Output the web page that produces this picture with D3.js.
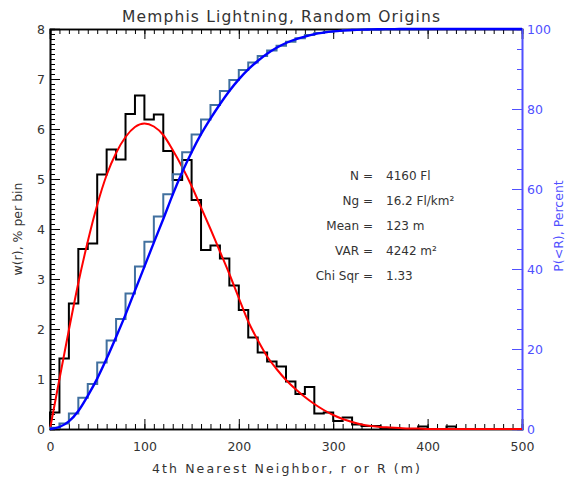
<!DOCTYPE html>
<html>
<script src='https://d3js.org/d3.v7.min.js'></script>
<style>
body {margin: 0; background: #fff;}
text {font-family: 'DejaVu Sans', sans-serif;}
</style>
<body>
<script>
// histogram bins (left edge, m), 10 m wide
var binStart = [0,10,20,30,40,50,60,70,80,90,100,110,120,130,140,150,160,170,180,190,
  200,210,220,230,240,250,260,270,280,290,300,310,320,330,340,350,360,370,380,390,400,410,420,430];
// w(r), % per bin
var pdfHist = [0.33,1.41,2.51,3.6,3.71,5.09,5.59,5.39,6.3,6.67,6.19,6.29,5.56,4.98,5.38,4.58,3.58,3.67,3.41,2.87,
  2.38,1.83,1.53,1.35,1.25,0.95,0.7,0.84,0.31,0.33,0.16,0.23,0.09,0.06,0.06,0.02,0.01,0,0,0.05,0,0,0.05,0];
// P(<R), percent
var cdfHist = [0.3,1.4,3.9,7.8,11.25,16.6,22.1,27.5,33.9,40.6,46.8,53.1,58.7,63.7,69.2,73.6,77.4,81.0,84.5,87.25,
  89.75,91.6,93.25,94.6,95.8,96.8,97.7,98.5,99.0,99.3,99.5,99.7,99.8,99.85,99.9,99.92,99.93,99.93,99.95,99.95,100,100,100,100];

// fitted curves, sampled every 10 m
var curveR = [0,10,20,30,40,50,60,70,80,90,100,110,120,130,140,150,160,170,180,190,200,
  210,220,230,240,250,260,270,280,290,300,310,320,330,340,350,360,370,380,390,400,
  410,420,430,440,450,460,470,480,490,500];
var pdfFit = [0,1.0,1.98,2.92,3.75,4.48,5.08,5.52,5.84,6.04,6.11,6.05,5.88,5.58,5.24,4.86,4.43,4.0,3.55,3.1,2.62,
  2.15,1.78,1.45,1.2,0.98,0.8,0.64,0.5,0.38,0.28,0.2,0.14,0.09,0.06,0.04,0.03,0.02,0.01,0.01,0,
  0,0,0,0,0,0,0,0,0,0];
var cdfFit = [0,0.5,1.9,4.5,8.3,12.6,17.6,23.0,28.6,34.6,40.6,46.6,52.5,58.6,64.2,69.2,73.7,77.6,81.2,84.5,87.4,
  89.9,92.0,93.8,95.3,96.5,97.4,98.1,98.7,99.1,99.4,99.6,99.75,99.85,99.9,99.95,99.97,99.99,100,100,100,
  100,100,100,100,100,100,100,100,100,100];

var xTicks = [0,100,200,300,400,500];
var yLeftTicks = [0,1,2,3,4,5,6,7,8];
var yRightTicks = [0,20,40,60,80,100];

var statLabels = ['N','Ng','Mean','VAR','Chi Sqr'];
var statValues = ['4160 Fl','16.2 Fl/km\u00b2','123 m','4242 m\u00b2','1.33'];

var binWidth = 10;
var blueAxis = '#5050ff';
var textCol = '#333';

var svg = d3.select('body').append('svg')
  .attr('width', 579)
  .attr('height', 479);

var x = d3.scaleLinear().domain([0,500]).range([50,522]);
var yL = d3.scaleLinear().domain([0,8]).range([429,29]);
var yR = d3.scaleLinear().domain([0,100]).range([429,29]);

function styleAxis(g, col) {
  g.selectAll('line').attr('stroke', col).attr('stroke-width', 1);
  g.selectAll('path').attr('stroke', col).attr('stroke-width', 1.6);
  g.selectAll('text').attr('fill', col === blueAxis ? blueAxis : textCol)
    .style('font-size', '12.5px').style('font-family', "'DejaVu Sans', sans-serif");
}

// minor ticks
svg.append('g').attr('transform','translate(0,429)')
  .call(d3.axisBottom(x).tickValues(x.ticks(50)).tickSize(-5).tickFormat('')).call(styleAxis, '#000');
svg.append('g').attr('transform','translate(0,29)')
  .call(d3.axisTop(x).tickValues(x.ticks(50)).tickSize(-5).tickFormat('')).call(styleAxis, '#000');
svg.append('g').attr('transform','translate(50,0)')
  .call(d3.axisLeft(yL).tickValues(yL.ticks(80)).tickSize(-5).tickFormat('')).call(styleAxis, '#000');
svg.append('g').attr('transform','translate(522,0)')
  .call(d3.axisRight(yR).tickValues(yR.ticks(20)).tickSize(-5).tickFormat('')).call(styleAxis, blueAxis);

// major ticks + labels
svg.append('g').attr('transform','translate(0,429)')
  .call(d3.axisBottom(x).tickValues(xTicks).tickSize(-10).tickPadding(13).tickFormat(d3.format('d')))
  .call(styleAxis, '#000');
svg.append('g').attr('transform','translate(0,29)')
  .call(d3.axisTop(x).tickValues(xTicks).tickSize(-10).tickFormat(''))
  .call(styleAxis, '#000');
svg.append('g').attr('transform','translate(50,0)')
  .call(d3.axisLeft(yL).tickValues(yLeftTicks).tickSize(-10).tickPadding(5).tickFormat(d3.format('d')))
  .call(styleAxis, '#000');
svg.append('g').attr('transform','translate(522,0)')
  .call(d3.axisRight(yR).tickValues(yRightTicks).tickSize(-10).tickPadding(5).tickFormat(d3.format('d')))
  .call(styleAxis, blueAxis);

// histograms
var stepLineL = d3.line().x(function(d){return x(d[0]);}).y(function(d){return yL(d[1]);}).curve(d3.curveStepAfter);
var stepLineR = d3.line().x(function(d){return x(d[0]);}).y(function(d){return yR(d[1]);}).curve(d3.curveStepAfter);

function histPoints(vals) {
  var pts = [[binStart[0], 0]];
  binStart.forEach(function(b, i){ pts.push([b, vals[i]]); });
  pts.push([binStart[binStart.length-1] + binWidth, 0]);
  return pts;
}

svg.append('path')
  .datum(histPoints(pdfHist))
  .attr('d', stepLineL)
  .attr('fill','none').attr('stroke','#000').attr('stroke-width',2);

var smoothL = d3.line().x(function(d,i){return x(curveR[i]);}).y(function(d){return yL(d);}).curve(d3.curveMonotoneX);
var smoothR = d3.line().x(function(d,i){return x(curveR[i]);}).y(function(d){return yR(d);}).curve(d3.curveMonotoneX);

svg.append('path')
  .datum(pdfFit)
  .attr('d', smoothL)
  .attr('fill','none').attr('stroke','#ff0000').attr('stroke-width',2);

var cdfPts = [[binStart[0], 0]];
binStart.forEach(function(b, i){ cdfPts.push([b, cdfHist[i]]); });
cdfPts.push([binStart[binStart.length-1] + binWidth, cdfHist[cdfHist.length-1]]);

svg.append('path')
  .datum(cdfPts)
  .attr('d', stepLineR)
  .attr('fill','none').attr('stroke','#41709f').attr('stroke-width',2);

svg.append('path')
  .datum(cdfFit)
  .attr('d', smoothR)
  .attr('fill','none').attr('stroke','#0000ff').attr('stroke-width',2.4);

// title and axis labels
svg.append('text')
  .attr('x', 281).attr('y', 22)
  .attr('text-anchor','middle')
  .attr('textLength', 318).attr('lengthAdjust','spacing')
  .style('font-size','15.5px').attr('fill', textCol)
  .text('Memphis Lightning, Random Origins');

svg.append('text')
  .attr('x', 286).attr('y', 473)
  .attr('text-anchor','middle')
  .attr('textLength', 268).attr('lengthAdjust','spacing')
  .style('font-size','12.5px').attr('fill', textCol)
  .text('4th Nearest Neighbor, r or R (m)');

svg.append('text')
  .attr('transform','translate(22,229)rotate(-90)')
  .attr('text-anchor','middle')
  .style('font-size','12.5px').attr('fill', textCol)
  .text('w(r), % per bin');

svg.append('text')
  .attr('transform','translate(563,226)rotate(-90)')
  .attr('text-anchor','middle')
  .style('font-size','12.5px').attr('fill', blueAxis)
  .text('P(<R), Percent');

// stats block
var stats = svg.append('g');
statLabels.forEach(function(s, i){
  var yy = 180 + i*25;
  stats.append('text').attr('x', 359).attr('y', yy).attr('text-anchor','end')
    .style('font-size','12px').attr('fill', textCol).text(s);
  stats.append('text').attr('x', 368).attr('y', yy).attr('text-anchor','middle')
    .style('font-size','12px').attr('fill', textCol).text('=');
  stats.append('text').attr('x', 386).attr('y', yy)
    .style('font-size','12px').attr('fill', textCol).text(statValues[i]);
});
</script>
</body>
</html>
